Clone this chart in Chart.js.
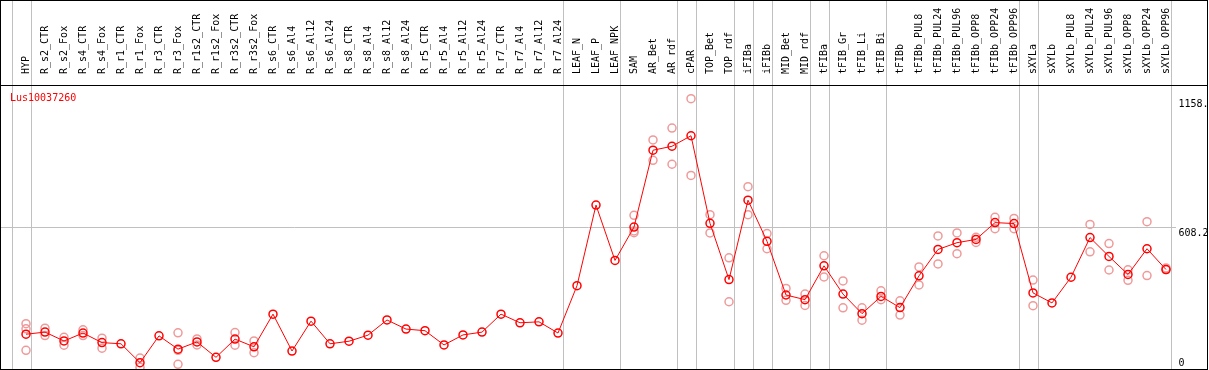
<!DOCTYPE html>
<html>
<head>
<meta charset="utf-8">
<script src="https://cdn.jsdelivr.net/npm/chart.js@4.4.1/dist/chart.umd.min.js"></script>
<style>
  html, body { margin: 0; padding: 0; background: #fff; }
</style>
</head>
<body>
<canvas id="myChart" width="1209" height="370"></canvas>
<script>
const categories = [
  'HYP', 'R_s2_CTR', 'R_s2_Fox', 'R_s4_CTR', 'R_s4_Fox', 'R_r1_CTR', 'R_r1_Fox', 'R_r3_CTR', 'R_r3_Fox',
  'R_r1s2_CTR', 'R_r1s2_Fox', 'R_r3s2_CTR', 'R_r3s2_Fox', 'R_s6_CTR', 'R_s6_Al4', 'R_s6_Al12', 'R_s6_Al24',
  'R_s8_CTR', 'R_s8_Al4', 'R_s8_Al12', 'R_s8_Al24', 'R_r5_CTR', 'R_r5_Al4', 'R_r5_Al12', 'R_r5_Al24',
  'R_r7_CTR', 'R_r7_Al4', 'R_r7_Al12', 'R_r7_Al24', 'LEAF_N', 'LEAF_P', 'LEAF_NPK', 'SAM', 'AR_Bet', 'AR_rdf',
  'cPAR', 'TOP_Bet', 'TOP_rdf', 'iFIBa', 'iFIBb', 'MID_Bet', 'MID_rdf', 'tFIBa', 'tFIB_Gr', 'tFIB_Li', 'tFIB_Bi',
  'tFIBb', 'tFIBb_PUL8', 'tFIBb_PUL24', 'tFIBb_PUL96', 'tFIBb_OPP8', 'tFIBb_OPP24', 'tFIBb_OPP96',
  'sXYLa', 'sXYLb', 'sXYLb_PUL8', 'sXYLb_PUL24', 'sXYLb_PUL96', 'sXYLb_OPP8', 'sXYLb_OPP24', 'sXYLb_OPP96'
];

// mean expression (red line)
const meanValues = [
  149, 158, 120, 154, 113, 108, 27, 142, 85,
  116, 50, 128, 95, 235, 77, 205, 108,
  119, 145, 210, 171, 164, 103, 146, 158,
  235, 198, 202, 154, 357, 702, 465, 608, 937, 954,
  999, 624, 383, 723, 547, 317, 297, 442, 321, 237, 311,
  263, 399, 512, 541, 555, 627, 623,
  326, 283, 393, 563, 482, 405, 515, 426
];

// replicates (pink circles), null = no replicate shown
const repA = [
  194, 175, 136, 168, 132, null, 47, null, 155,
  129, null, 156, 120, null, null, null, null,
  null, null, null, null, null, null, null, null,
  null, null, null, null, null, null, null, 658, 981, 1032,
  1158, 661, 476, 781, 580, 345, 321, 485, 377, 262, 335,
  292, 437, 570, 583, 564, 650, 645,
  381, null, null, 619, 537, 425, 631, 433
];
const repB = [
  172, 143, 102, 143, 89, null, 7, null, 80,
  103, null, 102, 70, null, null, null, null,
  null, null, null, null, null, null, null, null,
  null, null, null, null, null, null, null, 591, 894, 877,
  829, 583, 288, 661, 515, 294, 272, 394, 262, 209, 297,
  231, 360, 450, 494, 542, 601, 601,
  271, null, null, 502, 424, 380, 400, 426
];
const repC = [
  80, null, null, null, null, null, null, null, 20,
  null, null, null, null, null, null, null, null,
  null, null, null, null, null, null, null, null,
  null, null, null, null, null, null, null, 584, null, null,
  null, null, null, null, null, null, null, null, null, null, null,
  null, null, null, null, null, null, null,
  null, null, null, null, null, null, null, null
];

// last category of each group (vertical separators)
const groupEnds = [-1, 0, 28, 31, 34, 35, 37, 38, 39, 41, 42, 45, 52, 53, 60];
const yTicks = [0, 608.2, 1158.4];
const seriesName = 'Lus10037260';

const monoFont = { family: '"DejaVu Sans Mono", monospace', size: 10 };

function toPoints(arr) {
  return arr.map((v, i) => (v === null ? null : { x: i, y: v })).filter(p => p);
}

function repDataset(arr) {
  return {
    data: toPoints(arr),
    showLine: false,
    pointRadius: 4,
    pointBorderWidth: 1.5,
    pointBorderColor: '#ef9a9a',
    pointBackgroundColor: 'rgba(0,0,0,0)',
  };
}

function noPadding(s) {
  s.paddingLeft = 0;
  s.paddingRight = 0;
  s.paddingTop = 0;
  s.paddingBottom = 0;
}

const framePlugin = {
  id: 'frame',
  beforeDatasetsDraw(chart) {
    const { ctx, chartArea, scales } = chart;
    ctx.save();
    ctx.strokeStyle = '#c0c0c0';
    ctx.lineWidth = 1;
    groupEnds.forEach(i => {
      const px = Math.round(scales.x.getPixelForValue(i + 0.24)) + 0.5;
      ctx.beginPath();
      ctx.moveTo(px, 0);
      ctx.lineTo(px, chartArea.bottom);
      ctx.stroke();
    });
    ctx.restore();
  },
  afterDraw(chart) {
    const { ctx, chartArea, width, height } = chart;
    ctx.save();
    ctx.strokeStyle = '#000';
    ctx.lineWidth = 1;
    ctx.beginPath();
    ctx.moveTo(0, chartArea.top + 0.5);
    ctx.lineTo(width - 1, chartArea.top + 0.5);
    ctx.stroke();
    ctx.strokeRect(0.5, 0.5, width - 2, height - 1);
    ctx.fillStyle = '#ff0000';
    ctx.font = '10px "DejaVu Sans Mono", monospace';
    ctx.textBaseline = 'alphabetic';
    ctx.fillText(seriesName, chartArea.left + 9, chartArea.top + 16);
    ctx.restore();
  }
};

const ctx = document.getElementById('myChart').getContext('2d');

const myChart = new Chart(ctx, {
  type: 'scatter',
  data: {
    datasets: [
      {
        data: toPoints(meanValues),
        showLine: true,
        borderColor: '#ff0000',
        borderWidth: 1,
        pointRadius: 4,
        pointBorderWidth: 1.5,
        pointBorderColor: '#ff0000',
        pointBackgroundColor: 'rgba(0,0,0,0)',
      },
      repDataset(repA),
      repDataset(repB),
      repDataset(repC),
    ],
  },
  options: {
    responsive: false,
    animation: false,
    devicePixelRatio: 1,
    layout: { autoPadding: false, padding: { left: 1, right: 0, top: 0, bottom: 1 } },
    plugins: {
      legend: { display: false },
      tooltip: { enabled: false },
    },
    scales: {
      x: {
        type: 'linear',
        position: 'top',
        min: -1.3158,
        max: 60.5,
        grid: { display: false },
        border: { display: false },
        afterBuildTicks: s => { s.ticks = categories.map((c, i) => ({ value: i })); },
        afterFit: s => { s.height = 85; noPadding(s); },
        ticks: {
          autoSkip: false,
          minRotation: 90,
          maxRotation: 90,
          padding: 3,
          labelOffset: 12,
          color: '#000',
          font: monoFont,
          callback: v => categories[v] || '',
        },
      },
      y: {
        type: 'linear',
        position: 'right',
        min: 0,
        max: 1216.4,
        border: { display: false },
        afterBuildTicks: s => { s.ticks = yTicks.map(v => ({ value: v })); },
        afterFit: s => { s.width = 33.5; noPadding(s); },
        grid: {
          drawTicks: false,
          color: c => (c.tick && c.tick.value === 608.2 ? '#c0c0c0' : 'rgba(0,0,0,0)'),
        },
        ticks: {
          padding: 3,
          color: '#000',
          font: monoFont,
          callback: v => (v === 0 ? ['0', ''] : ['', String(v).slice(0, 5)]),
        },
      },
    },
  },
  plugins: [framePlugin],
});
</script>
</body>
</html>
